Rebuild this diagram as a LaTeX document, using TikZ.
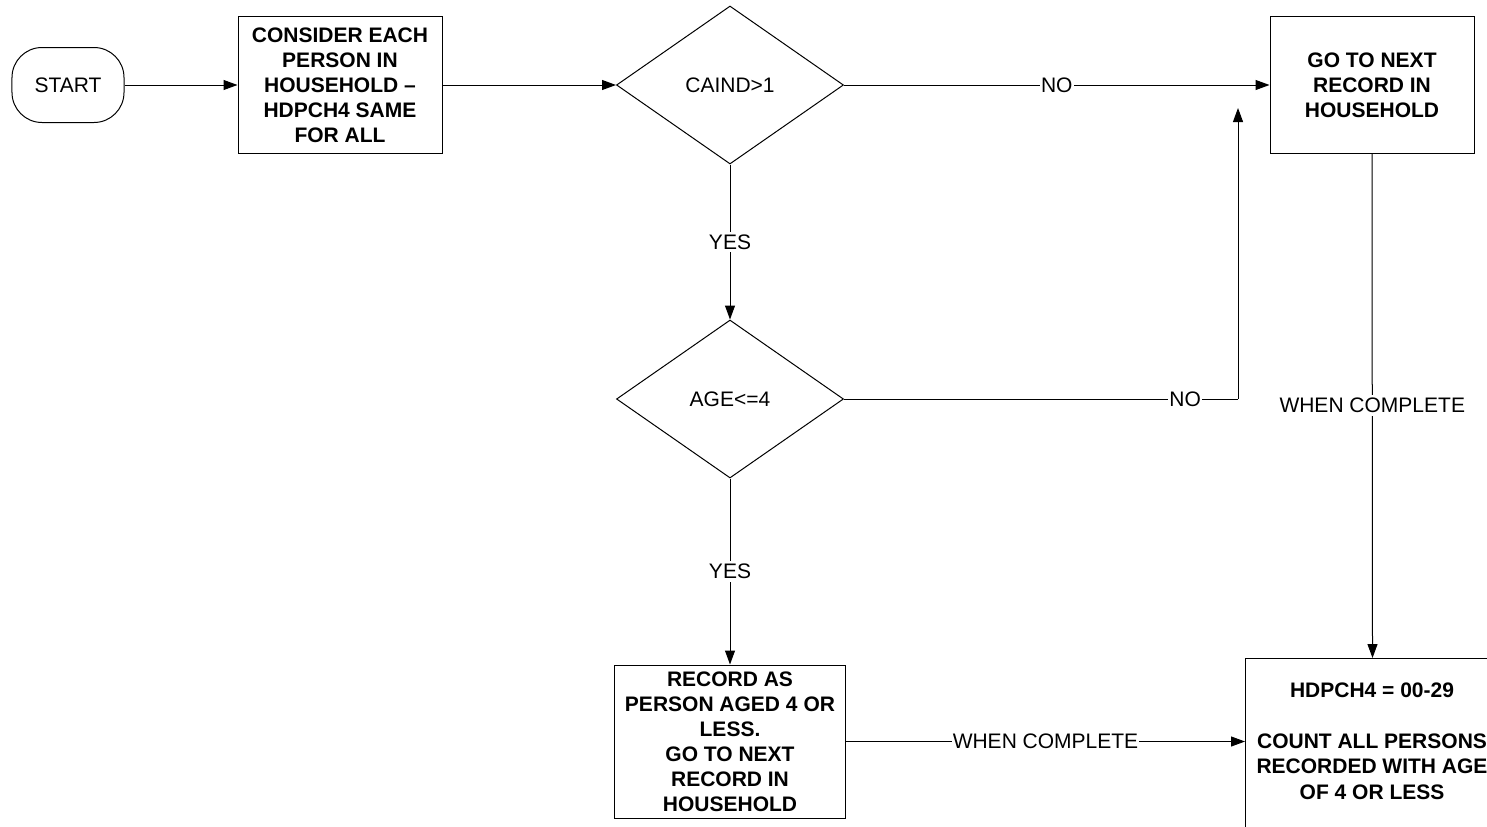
\documentclass[tikz,border=0pt]{standalone}
\usepackage{fontspec}
\setmainfont{Liberation Sans}
\usetikzlibrary{shapes.geometric,arrows.meta}
\begin{document}
\begin{tikzpicture}[x=1bp,y=-1bp,
  every node/.style={font=\fontsize{21bp}{25bp}\selectfont},
  box/.style={draw, line width=1bp, minimum width=204bp, minimum height=136bp, inner sep=2bp, align=center, font=\fontsize{21bp}{25bp}\selectfont\bfseries},
  dec/.style={draw, line width=1bp, diamond, minimum width=227bp, minimum height=158bp, inner sep=0pt},
  term/.style={draw, line width=1bp, rounded corners=30bp, minimum width=112bp, minimum height=75bp},
  conn/.style={line width=1bp, -{Triangle[length=14bp,width=10bp]}},
  plain/.style={line width=1bp},
  lbl/.style={fill=white, inner xsep=1bp, inner ysep=3bp}
]
\clip (0,0) rectangle (1487,826);
\node[term] (start) at (68,85) {START};
\node[box] (consider) at (340,85) {CONSIDER EACH\\PERSON IN\\HOUSEHOLD –\\HDPCH4 SAME\\FOR ALL};
\node[dec] (caind) at (730,85) {CAIND>1};
\node[box] (next) at (1372,85) {GO TO NEXT\\RECORD IN\\HOUSEHOLD};
\node[dec] (age) at (730,399) {AGE<=4};
\node[box, minimum width=231bp, minimum height=153bp] (record) at (730,741.5) {RECORD AS\\PERSON AGED 4 OR\\LESS.\\GO TO NEXT\\RECORD IN\\HOUSEHOLD};
\node[draw, line width=1bp, minimum width=254bp, minimum height=180bp, anchor=north west] (fin) at (1245,658) {};
\node[align=center, font=\fontsize{21bp}{25.5bp}\selectfont\bfseries] (fintext) at (1372,741) {HDPCH4 = 00-29\\[25.5bp]COUNT ALL PERSONS\\RECORDED WITH AGE\\OF 4 OR LESS};
\coordinate (corner) at (1238,399);
\coordinate (loopend) at (1238,108);

\draw[conn] (start) -- (consider);
\draw[conn] (consider) -- (caind);
\draw[conn] (caind.east) -- coordinate[midway] (l1) (next.west);
\draw[conn] (caind.south) -- coordinate[midway] (l2) (age.north);
\draw[plain] (age.east) -- coordinate[pos=0.866] (l3) (corner);
\draw[conn] (corner) -- (loopend);
\draw[conn] (age.south) -- coordinate[midway] (l4) (record.north);
\draw[conn] (record.east) -- coordinate[midway] (l5) (fin.west |- record.east);
\draw[conn] (next.south) -- coordinate[midway] (l6) (fin.north);

\node[lbl] (t1) at (l1) {NO};
\node[lbl] (t2) at (l2) {YES};
\node[lbl] (t3) at (l3) {NO};
\node[lbl] (t4) at (l4) {YES};
\node[lbl] (t5) at (l5) {WHEN COMPLETE};
\node[lbl] (t6) at (l6) {WHEN COMPLETE};
\end{tikzpicture}
\end{document}
